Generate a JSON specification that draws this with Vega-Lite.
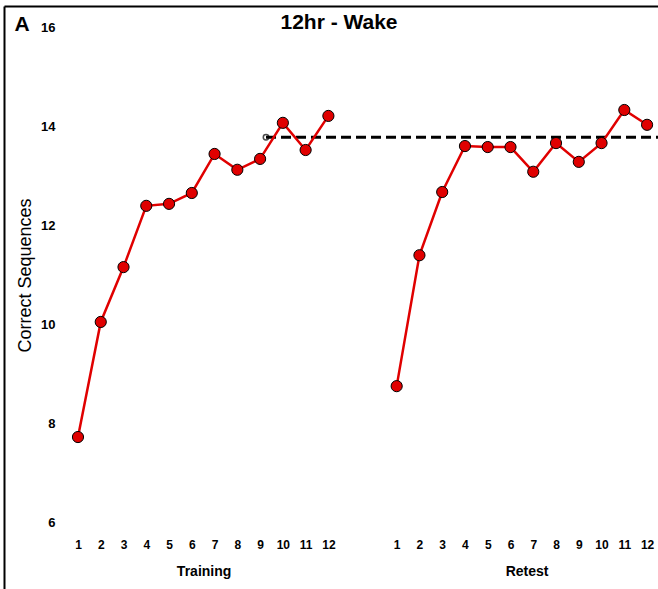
{
  "$schema": "https://vega.github.io/schema/vega-lite/v6.json",
  "autosize": "none",
  "padding": {"left": 4, "top": 6, "right": 0, "bottom": 0},
  "width": 654,
  "height": 583,
  "background": "white",
  "config": {
    "view": {"stroke": null},
    "font": "Liberation Sans",
    "axisY": {"grid": false, "ticks": false, "domain": true, "domainColor": "black", "domainWidth": 2,
              "labelPadding": -51, "labelAlign": "right", "labelFont": "Liberation Sans", "labelFontWeight": "bold", "labelFontSize": 13, "labelColor": "black",
              "titleFont": "Liberation Sans", "titleFontWeight": "normal", "titleFontSize": 18, "titleColor": "black",
              "titleX": 21, "titleY": 269, "titleBaseline": "middle", "titleAlign": "center", "titleAngle": -90}
  },
  "title": {"text": "12hr - Wake", "font": "Liberation Sans", "fontSize": 21, "fontWeight": "bold", "anchor": "middle", "frame": "group", "offset": -27, "dx": 8, "color": "black"},
  "datasets": {
    "scores": [
      {"phase": "Training", "trial": 1, "pos": 1, "value": 7.72},
      {"phase": "Training", "trial": 2, "pos": 2, "value": 10.05},
      {"phase": "Training", "trial": 3, "pos": 3, "value": 11.16},
      {"phase": "Training", "trial": 4, "pos": 4, "value": 12.40},
      {"phase": "Training", "trial": 5, "pos": 5, "value": 12.44},
      {"phase": "Training", "trial": 6, "pos": 6, "value": 12.66},
      {"phase": "Training", "trial": 7, "pos": 7, "value": 13.45},
      {"phase": "Training", "trial": 8, "pos": 8, "value": 13.13},
      {"phase": "Training", "trial": 9, "pos": 9, "value": 13.35},
      {"phase": "Training", "trial": 10, "pos": 10, "value": 14.08},
      {"phase": "Training", "trial": 11, "pos": 11, "value": 13.53},
      {"phase": "Training", "trial": 12, "pos": 12, "value": 14.22},
      {"phase": "Retest", "trial": 1, "pos": 15, "value": 8.75},
      {"phase": "Retest", "trial": 2, "pos": 16, "value": 11.40},
      {"phase": "Retest", "trial": 3, "pos": 17, "value": 12.68},
      {"phase": "Retest", "trial": 4, "pos": 18, "value": 13.61},
      {"phase": "Retest", "trial": 5, "pos": 19, "value": 13.59},
      {"phase": "Retest", "trial": 6, "pos": 20, "value": 13.59},
      {"phase": "Retest", "trial": 7, "pos": 21, "value": 13.09},
      {"phase": "Retest", "trial": 8, "pos": 22, "value": 13.67},
      {"phase": "Retest", "trial": 9, "pos": 23, "value": 13.29},
      {"phase": "Retest", "trial": 10, "pos": 24, "value": 13.67},
      {"phase": "Retest", "trial": 11, "pos": 25, "value": 14.34},
      {"phase": "Retest", "trial": 12, "pos": 26, "value": 14.04}
    ],
    "reference": [
      {"start": 9.26, "end": 26.48, "level": 13.79}
    ],
    "labels": [
      {"pos": 6.54, "value": 4.99, "text": "Training"},
      {"pos": 20.73, "value": 4.99, "text": "Retest"}
    ],
    "panel": [
      {"pos": -1.46, "value": 16.06, "text": "A"}
    ]
  },
  "resolve": {"axis": {"x": "independent"}},
  "layer": [
    {
      "data": {"name": "reference"},
      "mark": {"type": "rule", "color": "black", "strokeWidth": 3, "strokeDash": [10, 5]},
      "encoding": {
        "x": {"field": "start", "type": "quantitative", "scale": {"domain": [-2.25, 26.48], "nice": false, "zero": false},
              "axis": {"orient": "top", "labels": false, "ticks": false, "grid": false, "domain": true, "domainColor": "black", "domainWidth": 2, "title": null}},
        "x2": {"field": "end"},
        "y": {"field": "level", "type": "quantitative", "scale": {"domain": [4.644, 16.445], "nice": false, "zero": false}, "title": "Correct Sequences", "axis": {"values": [6, 8, 10, 12, 14, 16]}}
      }
    },
    {
      "data": {"name": "reference"},
      "mark": {"type": "point", "filled": false, "color": "black", "strokeWidth": 1.5, "size": 30},
      "encoding": {
        "x": {"field": "start", "type": "quantitative", "scale": {"domain": [-2.25, 26.48], "nice": false, "zero": false}, "axis": null},
        "y": {"field": "level", "type": "quantitative", "scale": {"domain": [4.644, 16.445], "nice": false, "zero": false}, "title": "Correct Sequences", "axis": {"values": [6, 8, 10, 12, 14, 16]}}
      }
    },
    {
      "data": {"name": "scores"},
      "mark": {"type": "line", "color": "#e00000", "strokeWidth": 2.5},
      "encoding": {
        "x": {"field": "pos", "type": "quantitative", "scale": {"domain": [-2.25, 26.48], "nice": false, "zero": false},
              "axis": {"orient": "bottom", "offset": -67, "values": [1,2,3,4,5,6,7,8,9,10,11,12,15,16,17,18,19,20,21,22,23,24,25,26],
                       "labelExpr": "datum.value > 13 ? datum.value - 14 : datum.value", "domain": false, "ticks": false, "grid": false,
                       "labelPadding": 17, "labelFont": "Liberation Sans", "labelFontWeight": "bold", "labelFontSize": 12, "labelColor": "black", "title": null}},
        "y": {"field": "value", "type": "quantitative", "scale": {"domain": [4.644, 16.445], "nice": false, "zero": false}, "title": "Correct Sequences", "axis": {"values": [6, 8, 10, 12, 14, 16]}},
        "detail": {"field": "phase"}
      }
    },
    {
      "data": {"name": "scores"},
      "mark": {"type": "point", "filled": true, "fill": "#e00000", "stroke": "black", "strokeWidth": 1, "size": 125, "opacity": 1},
      "encoding": {
        "x": {"field": "pos", "type": "quantitative", "scale": {"domain": [-2.25, 26.48], "nice": false, "zero": false}, "axis": null},
        "y": {"field": "value", "type": "quantitative", "scale": {"domain": [4.644, 16.445], "nice": false, "zero": false}, "title": "Correct Sequences", "axis": {"values": [6, 8, 10, 12, 14, 16]}}
      }
    },
    {
      "data": {"name": "labels"},
      "mark": {"type": "text", "font": "Liberation Sans", "fontWeight": "bold", "fontSize": 14, "color": "black", "baseline": "middle", "align": "center"},
      "encoding": {
        "x": {"field": "pos", "type": "quantitative", "scale": {"domain": [-2.25, 26.48], "nice": false, "zero": false}, "axis": null},
        "y": {"field": "value", "type": "quantitative", "scale": {"domain": [4.644, 16.445], "nice": false, "zero": false}, "title": "Correct Sequences", "axis": {"values": [6, 8, 10, 12, 14, 16]}},
        "text": {"field": "text"}
      }
    },
    {
      "data": {"name": "panel"},
      "mark": {"type": "text", "font": "Liberation Sans", "fontWeight": "bold", "fontSize": 21, "color": "black", "baseline": "middle", "align": "center"},
      "encoding": {
        "x": {"field": "pos", "type": "quantitative", "scale": {"domain": [-2.25, 26.48], "nice": false, "zero": false}, "axis": null},
        "y": {"field": "value", "type": "quantitative", "scale": {"domain": [4.644, 16.445], "nice": false, "zero": false}, "title": "Correct Sequences", "axis": {"values": [6, 8, 10, 12, 14, 16]}},
        "text": {"field": "text"}
      }
    }
  ]
}
